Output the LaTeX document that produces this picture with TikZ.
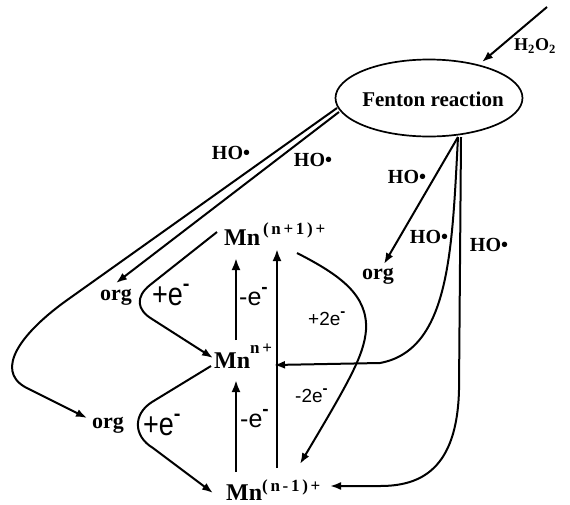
\documentclass[tikz,border=0pt]{standalone}
\usepackage{graphicx}
\usepackage{fontspec}
\setmainfont{Liberation Serif}
\newfontfamily\sansf{Liberation Sans}
\newfontfamily\supf[LetterSpace=16]{Liberation Serif}
\usetikzlibrary{arrows.meta,shapes.geometric}
\newcommand\fs[1]{\fontsize{#1}{#1}\selectfont}
\newcommand\minussup[2]{\raisebox{#1}{\sansf\bfseries\fs{#2}-}}
\begin{document}
\begin{tikzpicture}[x=1pt,y=-1pt,
  ln/.style={line width=2pt},
  arr/.style={ln,-{Latex[length=11pt,width=8pt]}},
  varr/.style={line width=2.4pt,-{Latex[length=12pt,width=9pt]}},
  txt/.style={inner sep=0pt,anchor=base west},
  ho/.style={inner sep=0pt,font=\fs{20}\bfseries},
  org/.style={txt,font=\fs{22}\bfseries},
  mn/.style={txt,font=\fs{24}\bfseries},
  ebig/.style={txt,font=\sansf\fs{27}},
  emid/.style={txt,font=\sansf\fs{25}},
  esmall/.style={txt,font=\sansf\fs{19}}
]
\useasboundingbox[fill=white] (0,0) rectangle (570,504);

% Fenton ellipse
\node[draw,ellipse,line width=1.7pt,minimum width=187pt,minimum height=77pt,inner sep=0pt] (fenton) at (429,98) {};
\node[inner sep=0pt,font=\fs{21}\bfseries] (fentxt) at (433,99) {Fenton reaction};

% labels
\node[ho,font=\fs{18}\bfseries] (h2o2) at (535,46) {H\textsubscript{2}O\textsubscript{2}};
\node[ho] (ho1) at (231,153) {HO•};
\node[ho] (ho2) at (313,160) {HO•};
\node[ho] (ho3) at (407,177) {HO•};
\node[ho] (ho4) at (429,237) {HO•};
\node[ho] (ho5) at (489,245) {HO•};

\node[org] (orgU) at (100,300) {org};
\node[org] (orgL) at (92,428) {org};
\node[org] (orgR) at (362,279) {org};

\node[mn] (mnp) at (224,245) {Mn\raisebox{11pt}{\supf\fs{17}\,(n+1)+}};
\node[mn] (mnn) at (214,368) {Mn\raisebox{15pt}{\supf\fs{17}n+}};
\node[mn] (mnm) at (226,500) {Mn\raisebox{9pt}{\supf\fs{17}(n-1)+}};

\node[ebig] (pe1) at (152,305) {\scalebox{1}[1.2]{+e}\minussup{15pt}{20}};
\node[ebig] (pe2) at (143,435) {\scalebox{1}[1.2]{+e}\minussup{15pt}{20}};
\node[emid] (me1) at (239,305) {-e\minussup{12pt}{19}};
\node[emid] (me2) at (240,427) {-e\minussup{12pt}{19}};
\node[esmall] (p2e) at (308,325) {+2e\minussup{9pt}{15}};
\node[esmall] (m2e) at (295,402) {-2e\minussup{9pt}{15}};

% H2O2 arrow
\coordinate (hs) at (547,7); \coordinate (ht) at (482,62);
\draw[arr] (hs) -- (ht);

% left double line
\coordinate (la) at (337,108); \coordinate (lb) at (339,112);
\coordinate (orgUtip) at (116,283);
\coordinate (orgLtip) at (87,418);
\draw[arr] (lb) -- (orgUtip);
\draw[arr] (la) -- (70,298) .. controls (20,333) and (-5,370) .. (25,387) -- (orgLtip);

% +e brackets
\coordinate (u1) at (217,232); \coordinate (u2) at (213,358);
\draw[arr] (u1) -- (150,285) .. controls (135,297) and (137,310) .. (152,319) -- (u2);
\coordinate (l1) at (211,366); \coordinate (l2) at (213,493);
\draw[arr] (l1) -- (152,402) .. controls (133,414) and (133,436) .. (153,448) -- (l2);

% +2e / -2e curve
\coordinate (r1) at (297,253); \coordinate (r2) at (300,464);
\draw[arr] (r1) .. controls (340,275) and (368,295) .. (366,330) .. controls (364,355) and (350,380) .. (r2);

% vertical -e arrows
\coordinate (v1a) at (236,340); \coordinate (v1b) at (236,258);
\coordinate (v2a) at (236,472); \coordinate (v2b) at (236,380);
\coordinate (v3a) at (277,468); \coordinate (v3b) at (277,249);
\draw[varr] (v1a) -- (v1b);
\draw[varr] (v2a) -- (v2b);
\draw[varr] (v3a) -- (v3b);

% right side from Fenton
\coordinate (fb1) at (458,137); \coordinate (fb2) at (461,137);
\coordinate (orgRtip) at (384,264);
\coordinate (mnntip) at (274,365);
\coordinate (mnmtip) at (330,486);
\draw[arr] (fb1) -- (orgRtip);
\draw[arr] (fb1) .. controls (452,250) and (450,350) .. (380,363) -- (mnntip);
\draw[arr] (fb2) -- (459,390) .. controls (457,470) and (420,486) .. (380,486) -- (mnmtip);
\end{tikzpicture}
\end{document}
